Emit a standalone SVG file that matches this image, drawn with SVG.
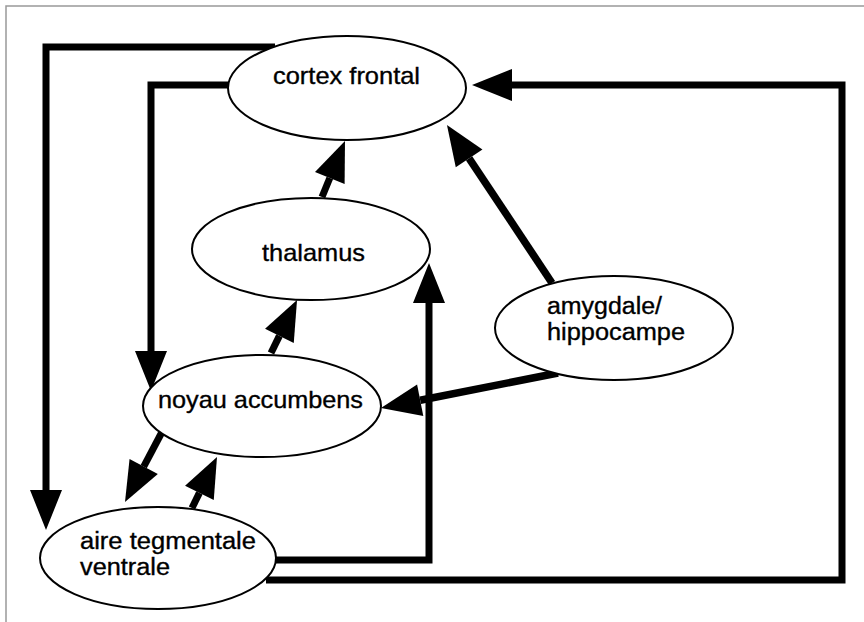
<svg xmlns="http://www.w3.org/2000/svg" width="864" height="622" viewBox="0 0 864 622">
  <style>
    .node ellipse { fill: #ffffff; stroke: #000000; stroke-width: 2; }
    .node text { font-family: "Liberation Sans", Arial, Helvetica, sans-serif; font-size: 24px; fill: #000000; stroke: #000000; stroke-width: 0.35; }
    .node text.two { font-size: 23px; }
    .conn { fill: none; stroke: #000000; stroke-width: 7; stroke-linejoin: miter; stroke-linecap: butt; marker-end: url(#arrow); }
    .frame { fill: none; stroke: #999999; stroke-width: 1.5; }
  </style>
  <defs>
    <marker id="arrow" markerUnits="userSpaceOnUse" viewBox="-2 -18 44 36" markerWidth="44" markerHeight="36" refX="0" refY="0" orient="auto" overflow="visible">
      <path d="M0,-16 L40,0 L0,16 Z" fill="#000000"/>
    </marker>
  </defs>
  <rect x="0" y="0" width="864" height="622" fill="#ffffff"/>
  <path class="frame" d="M6,622 V6 H864"/>

  <g id="connectors">
    <path class="conn" d="M275,47 H46 V490"/>
    <path class="conn" d="M229,85 H151 V351"/>
    <path class="conn" d="M322,197 L329.8,178"/>
    <path class="conn" d="M271,353 L279.4,335.9"/>
    <path class="conn" d="M162,432 L143.7,466.6"/>
    <path class="conn" d="M192,508 L199.4,492.9"/>
    <path class="conn" d="M276,560 H429 V303"/>
    <path class="conn" d="M266,580 H842 V85 H512"/>
    <path class="conn" style="stroke-width:7.5" d="M552,283 L469.1,158.3"/>
    <path class="conn" style="stroke-width:7.5" d="M558,373 L420.2,400.2"/>
  </g>

  <g id="cortex-frontal" class="node">
    <ellipse cx="347" cy="88" rx="119" ry="52"/>
    <text x="273" y="84" textLength="147" lengthAdjust="spacingAndGlyphs">cortex frontal</text>
  </g>
  <g id="thalamus" class="node">
    <ellipse cx="311" cy="249" rx="119" ry="51"/>
    <text x="262" y="261" textLength="103" lengthAdjust="spacingAndGlyphs">thalamus</text>
  </g>
  <g id="amygdale-hippocampe" class="node">
    <ellipse cx="614" cy="328" rx="119" ry="52"/>
    <text class="two" x="547" y="314" textLength="115" lengthAdjust="spacingAndGlyphs">amygdale/</text>
    <text class="two" x="547" y="340" textLength="138" lengthAdjust="spacingAndGlyphs">hippocampe</text>
  </g>
  <g id="noyau-accumbens" class="node">
    <ellipse cx="262" cy="406" rx="119" ry="51"/>
    <text x="158" y="408" textLength="205" lengthAdjust="spacingAndGlyphs">noyau accumbens</text>
  </g>
  <g id="aire-tegmentale-ventrale" class="node">
    <ellipse cx="158" cy="558" rx="118" ry="51"/>
    <text class="two" x="80" y="549" textLength="176" lengthAdjust="spacingAndGlyphs">aire tegmentale</text>
    <text class="two" x="80" y="575" textLength="90" lengthAdjust="spacingAndGlyphs">ventrale</text>
  </g>
</svg>
